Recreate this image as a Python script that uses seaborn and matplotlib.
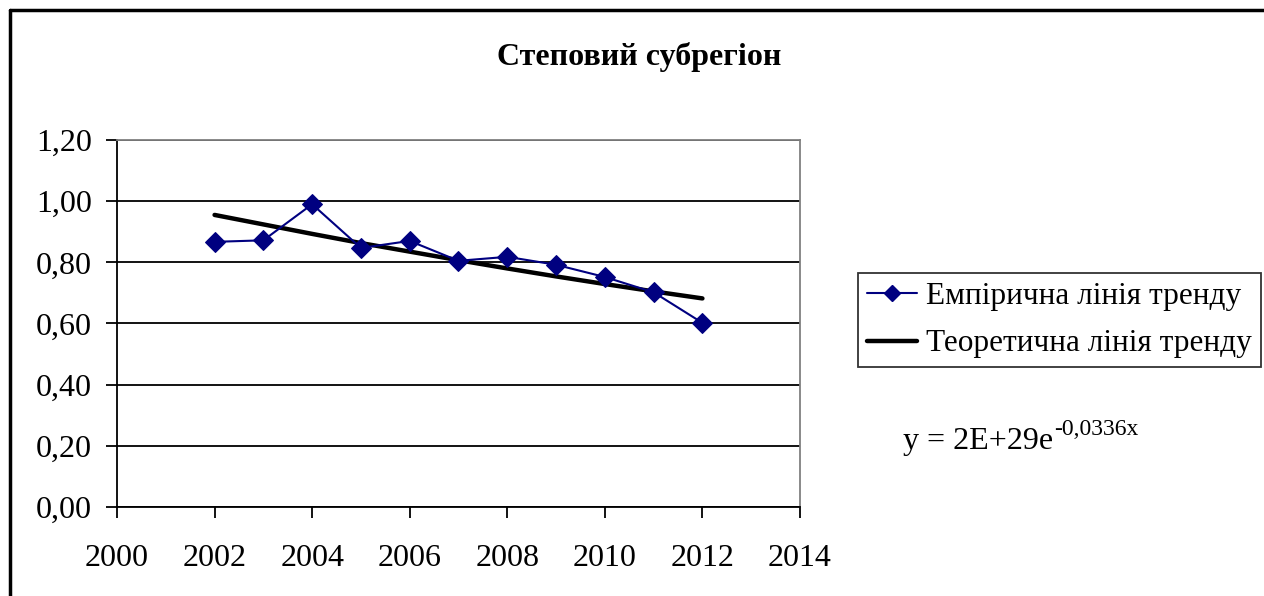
import numpy as np
import matplotlib
matplotlib.use("Agg")
import matplotlib.pyplot as plt
from matplotlib.ticker import FuncFormatter, MultipleLocator
from matplotlib.lines import Line2D
import seaborn as sns
import pandas as pd

sns.set_style("white")
plt.rcParams['font.family'] = ['Liberation Serif', 'DejaVu Serif']
plt.rcParams['text.color'] = 'black'
plt.rcParams['xtick.color'] = 'black'
plt.rcParams['ytick.color'] = 'black'

# data
years = [2002, 2003, 2004, 2005, 2006, 2007, 2008, 2009, 2010, 2011, 2012]
empirical = [0.867, 0.872, 0.990, 0.847, 0.870, 0.805, 0.818, 0.792, 0.752, 0.702, 0.602]
theoretical = [0.955, 0.924, 0.893, 0.863, 0.835, 0.807, 0.780, 0.754, 0.729, 0.705, 0.682]
title = "Степовий субрегіон"
label_emp = "Емпірична лінія тренду"
label_theo = "Теоретична лінія тренду"

df = pd.DataFrame({"year": years, "emp": empirical, "theo": theoretical})

fig = plt.figure(figsize=[12.64, 5.96], dpi=100)
ax = fig.add_axes([117 / 1264, 89 / 596, 683 / 1264, 367 / 596])

sns.lineplot(data=df, x="year", y="theo", ax=ax, color="black", linewidth=3.2, zorder=3)
sns.lineplot(data=df, x="year", y="emp", ax=ax, color="#000080", linewidth=1.5,
             marker="D", markersize=10, markeredgecolor="#000080", zorder=4)

ax.set_xlim(2000, 2014)
ax.set_ylim(0, 1.2)
ax.xaxis.set_major_locator(MultipleLocator(2))
ax.yaxis.set_major_locator(MultipleLocator(0.2))
ax.yaxis.set_major_formatter(FuncFormatter(lambda v, p: ("%.2f" % v).replace(".", ",")))
ax.set_xlabel("")
ax.set_ylabel("")
ax.grid(axis="y", color="black", linewidth=1.3)
ax.set_axisbelow(True)
for s in ["top", "right"]:
    ax.spines[s].set_color("#808080")
    ax.spines[s].set_linewidth(1.3)
for s in ["left", "bottom"]:
    ax.spines[s].set_color("black")
    ax.spines[s].set_linewidth(1.3)
ax.tick_params(axis="both", direction="out", length=8, width=1.3, color="black",
               labelsize=23, left=True, bottom=True)
ax.tick_params(axis="y", pad=10)
ax.tick_params(axis="x", pad=19)

fig.text(0.506, 1 - 57 / 596, title, ha="center", va="center", fontsize=23, fontweight="bold")

handles = [Line2D([], [], color="#000080", linewidth=1.5, marker="D", markersize=8),
           Line2D([], [], color="black", linewidth=3.2)]
leg = fig.legend(handles, [label_emp, label_theo], loc="upper left",
                 bbox_to_anchor=(858 / 1264, 1 - 273 / 596), fontsize=22.5,
                 frameon=True, fancybox=False, handlelength=1.6, handletextpad=0.3,
                 borderpad=0.28, labelspacing=0.6, borderaxespad=0)
leg.get_frame().set_edgecolor("black")
leg.get_frame().set_linewidth(1.3)

eq = fig.text(903 / 1264, 1 - 441 / 596, "y = 2E+29e", ha="left", va="center", fontsize=23)
ax.annotate("-0,0336x", xy=(1, 0.55), xycoords=eq, xytext=(1, 0), textcoords="offset points",
            fontsize=17, ha="left", va="bottom", annotation_clip=False)

# outer chart border (only top and left visible)
fig.add_artist(Line2D([10 / 1264, 1], [1 - 10 / 596, 1 - 10 / 596], color="black", linewidth=2.5,
                      transform=fig.transFigure))
fig.add_artist(Line2D([10 / 1264, 10 / 1264], [0, 1 - 10 / 596], color="black", linewidth=2.5,
                      transform=fig.transFigure))

fig.savefig("out.png", dpi=100)
